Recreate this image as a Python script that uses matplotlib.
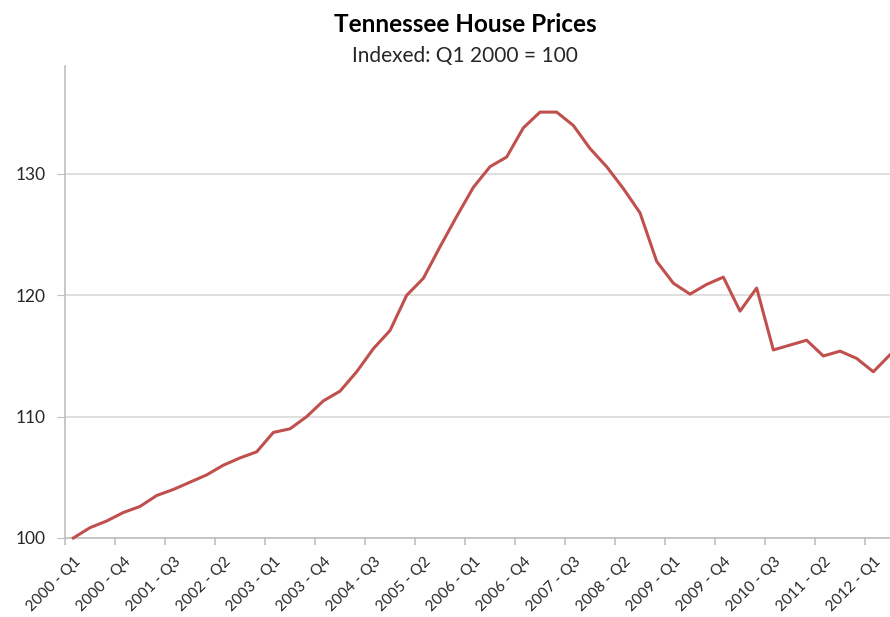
import numpy as np
import matplotlib.pyplot as plt

# данные: квартальный индекс цен на жильё, Q1 2000 = 100
years = [y for y in range(2000, 2013) for q in range(4)][:50]
quarters = [q for y in range(2000, 2013) for q in range(1, 5)][:50]
labels = ["%d - Q%d" % (y, q) for y, q in zip(years, quarters)]

values = [100.0, 100.85, 101.4, 102.1, 102.6, 103.5, 104.0, 104.6, 105.2, 106.0,
          106.6, 107.1, 108.7, 109.0, 110.0, 111.3, 112.1, 113.7, 115.6, 117.1,
          120.0, 121.4, 124.0, 126.5, 128.9, 130.6, 131.4, 133.8, 135.1, 135.1,
          134.0, 132.1, 130.6, 128.8, 126.8, 122.8, 121.0, 120.1, 120.9, 121.5,
          118.7, 120.6, 115.5, 115.9, 116.3, 115.0, 115.4, 114.8, 113.7, 115.1]

x = np.arange(len(values))

plt.rcParams['font.family'] = ['Lato', 'DejaVu Sans']

fig = plt.figure(figsize=(8.9, 6.17), dpi=100)
ax = fig.add_axes([65/890, 1 - 538/617, 1 - 65/890, (538 - 66)/617])

ax.plot(x, values, color='#C0504D', linewidth=2.2, clip_on=False, zorder=3)

ax.set_xlim(-0.5, 49.0)
ax.set_ylim(100, 138.9)

# сетка и оси
ax.set_yticks([100, 110, 120, 130])
ax.grid(axis='y', color='#D9D9D9', linewidth=1.2)
ax.set_axisbelow(True)
for s in ['top', 'right']:
    ax.spines[s].set_visible(False)
for s in ['left', 'bottom']:
    ax.spines[s].set_color('#BFBFBF')
    ax.spines[s].set_linewidth(1.2)

ax.tick_params(axis='y', length=6, color='#BFBFBF', labelsize=12.5, labelcolor='#262626', pad=8)

# подписи по X каждые 3 квартала, риски между категориями
ax.set_xticks(x[::3])
ax.set_xticklabels(labels[::3], rotation=45, ha='right', rotation_mode='anchor')
ax.tick_params(axis='x', length=0, labelsize=11, labelcolor='#262626', pad=12)
ax.set_xticks(np.arange(-0.5, 49, 3), minor=True)
ax.tick_params(axis='x', which='minor', length=5, color='#BFBFBF', width=1.2)

fig.text(465/890, 1 - 24/617, 'Tennessee House Prices', ha='center', va='center',
         fontsize=17.5, fontweight='bold', color='black')
fig.text(465/890, 1 - 56/617, 'Indexed: Q1 2000 = 100', ha='center', va='center',
         fontsize=15, color='#262626')

fig.savefig('out.png', dpi=100)
